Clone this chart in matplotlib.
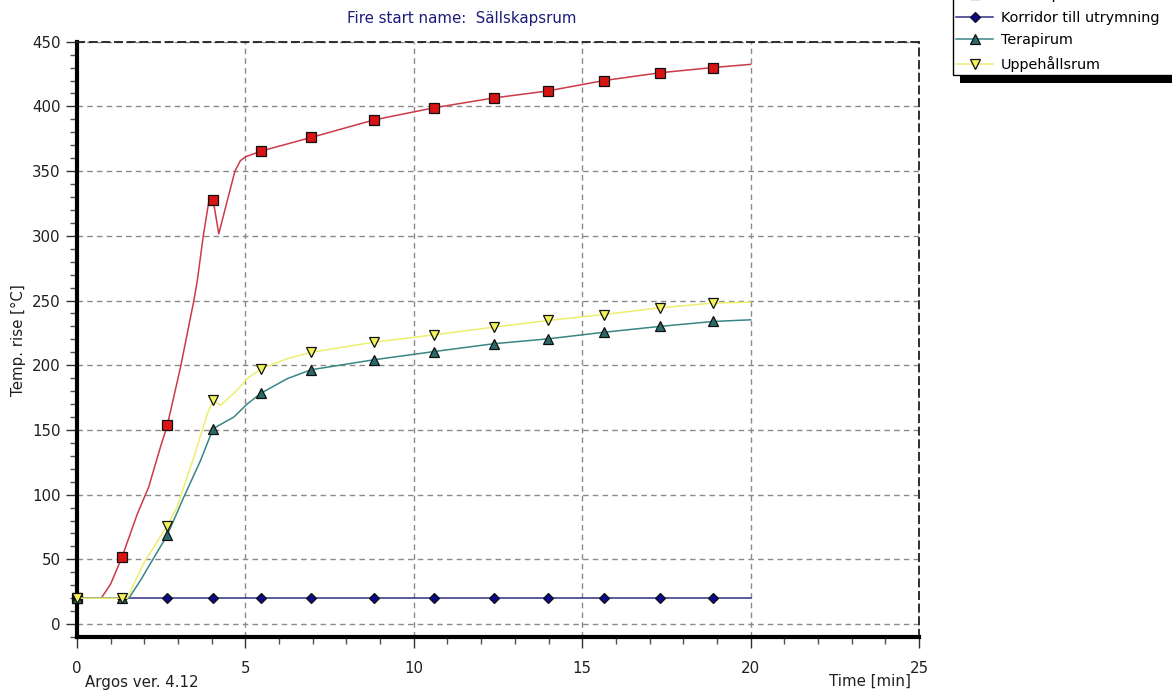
import numpy as np
import matplotlib
matplotlib.use("Agg")
import matplotlib.pyplot as plt
from matplotlib.ticker import MultipleLocator
from matplotlib.patches import Rectangle
from matplotlib.transforms import IdentityTransform

plt.rcParams['font.family'] = ['DejaVu Sans']

# ---- data -------------------------------------------------------------
marker_times = [0, 1.34, 2.68, 4.04, 5.47, 6.95, 8.81, 10.61, 12.37, 13.99, 15.65, 17.31, 18.87]

salls_t = [0, 0.72, 1.0, 1.34, 1.79, 2.13, 2.48, 2.68, 3.07, 3.47, 3.57, 3.75, 3.91, 4.04,
           4.21, 4.45, 4.69, 4.85, 5.0, 5.47, 6.95, 8.81, 10.61, 12.37, 13.99, 15.65, 17.31,
           18.87, 20.0]
salls_v = [20, 20, 31, 52, 85, 106, 137, 153.5, 198, 250, 265, 300, 326, 328,
           301.5, 326, 350, 358, 361, 365.5, 376, 389.5, 399, 406.5, 412, 420, 426,
           430, 432.5]

korr_t = [0, 1.34, 2.68, 4.04, 5.47, 6.95, 8.81, 10.61, 12.37, 13.99, 15.65, 17.31, 18.87, 20.0]
korr_v = [20, 20, 20, 20, 20, 20, 20, 20, 20, 20, 20, 20, 20, 20]

tera_t = [0, 1.34, 1.54, 1.89, 2.68, 3.17, 3.67, 4.04, 4.66, 5.05, 5.47, 6.24, 6.95,
          8.81, 10.61, 12.37, 13.99, 15.65, 17.31, 18.87, 20.0]
tera_v = [20, 20, 20, 34, 68.7, 98, 126.5, 151, 160, 170, 178.5, 189.6, 196.5,
          204.2, 210.6, 216.6, 220.4, 225.5, 230, 233.8, 235.1]

uppe_t = [0, 1.34, 1.49, 1.98, 2.68, 2.97, 3.47, 3.87, 4.04, 4.26, 4.75, 5.05, 5.47, 6.24,
          6.95, 8.81, 10.61, 12.37, 13.99, 15.65, 17.31, 18.87, 20.0]
uppe_v = [20, 20, 20, 47, 76, 90.5, 129, 162.6, 172.8, 169, 180.6, 189.6, 197.3, 205,
          210, 217.8, 223.5, 229.4, 234.6, 239.2, 244.4, 248, 248.7]

series_names = ["Sällskapsrum", "Korridor till utrymning", "Terapirum", "Uppehållsrum"]

x_ticks = [0, 5, 10, 15, 20, 25]
y_ticks = [0, 50, 100, 150, 200, 250, 300, 350, 400, 450]

# ---- figure -------------------------------------------------------------
W, H = 1172, 694
fig = plt.figure(figsize=(W / 100, H / 100), dpi=100)
fig.patch.set_facecolor("white")

ax_left, ax_right, ax_top, ax_bottom = 77, 919, 41.7, 637
ax = fig.add_axes([ax_left / W, 1 - ax_bottom / H,
                   (ax_right - ax_left) / W, (ax_bottom - ax_top) / H])
ax.set_xlim(0, 25)
ax.set_ylim(-10, 450)

ax.set_xticks(x_ticks)
ax.set_yticks(y_ticks)
ax.xaxis.set_minor_locator(MultipleLocator(1))
ax.yaxis.set_minor_locator(MultipleLocator(10))
ax.tick_params(axis="both", which="major", direction="out", length=8, width=1,
               color="#303030", labelsize=10.8, labelcolor="#202020")
ax.tick_params(axis="both", which="minor", direction="out", length=5, width=1,
               color="#505050")
ax.tick_params(axis="y", which="major", pad=4)
ax.tick_params(axis="x", which="major", pad=9)

ax.grid(True, which="major", color="#8a8a8a", linewidth=1.0,
        linestyle=(0, (4, 3)))
ax.set_axisbelow(True)

for side in ("left", "bottom"):
    ax.spines[side].set_linewidth(3)
    ax.spines[side].set_color("black")
for side in ("top", "right"):
    ax.spines[side].set_linewidth(1.3)
    ax.spines[side].set_color("#202020")
    ax.spines[side].set_linestyle((0, (4, 3)))


def plot_series(t, v, color, marker, mfc, ms, label):
    t = np.asarray(t)
    idx = list(np.where(np.isin(t, marker_times))[0])
    line, = ax.plot(t, v, color=color, linewidth=1.1, marker=marker, markevery=idx,
                    markersize=ms, markerfacecolor=mfc, markeredgecolor="#101010",
                    markeredgewidth=0.9, label=label, clip_on=False, zorder=3)
    return line


h1 = plot_series(salls_t, salls_v, "#cc3a48", "s", "#d81414", 7.2, series_names[0])
h2 = plot_series(korr_t, korr_v, "#2e2e86", "D", "#0a0a8a", 5.2, series_names[1])
h3 = plot_series(tera_t, tera_v, "#3a8585", "^", "#2b6a6a", 7.5, series_names[2])
h4 = plot_series(uppe_t, uppe_v, "#eeee70", "v", "#f4f25a", 7.5, series_names[3])

# ---- texts --------------------------------------------------------------
fig.text(462 / W, 1 - 19 / H, "Fire start name:  Sällskapsrum", ha="center", va="center",
         fontsize=10.8, color="#1c1c78")
fig.text(18 / W, 1 - 340 / H, "Temp. rise [°C]", rotation=90, ha="center", va="center",
         fontsize=10.8, color="#202020")
fig.text(85 / W, 1 - 682 / H, "Argos ver. 4.12", ha="left", va="center",
         fontsize=10.8, color="#202020")
fig.text(911 / W, 1 - 681 / H, "Time [min]", ha="right", va="center",
         fontsize=10.8, color="#202020")

# ---- legend ---------------------------------------------------------------
leg = fig.legend(handles=[h1, h2, h3, h4], labels=series_names,
                 loc="lower left", bbox_to_anchor=(953 / W, 1 - 75 / H, 0.25, 0.2),
                 mode="expand", borderaxespad=0, fontsize=10.4, frameon=True,
                 fancybox=False, edgecolor="black", framealpha=1, labelspacing=0.6,
                 handlelength=2.6, handletextpad=0.5, borderpad=0.2,
                 handleheight=0.7)
leg.get_frame().set_linewidth(1.0)
leg.set_zorder(5)

fig.canvas.draw()
bb = leg.get_window_extent()
shadow = Rectangle((bb.x0 + 7, bb.y0 - 8), bb.width, bb.height, transform=IdentityTransform(),
                   facecolor="black", edgecolor="none", zorder=4)
fig.patches.append(shadow)

fig.savefig("out.png", dpi=100)
